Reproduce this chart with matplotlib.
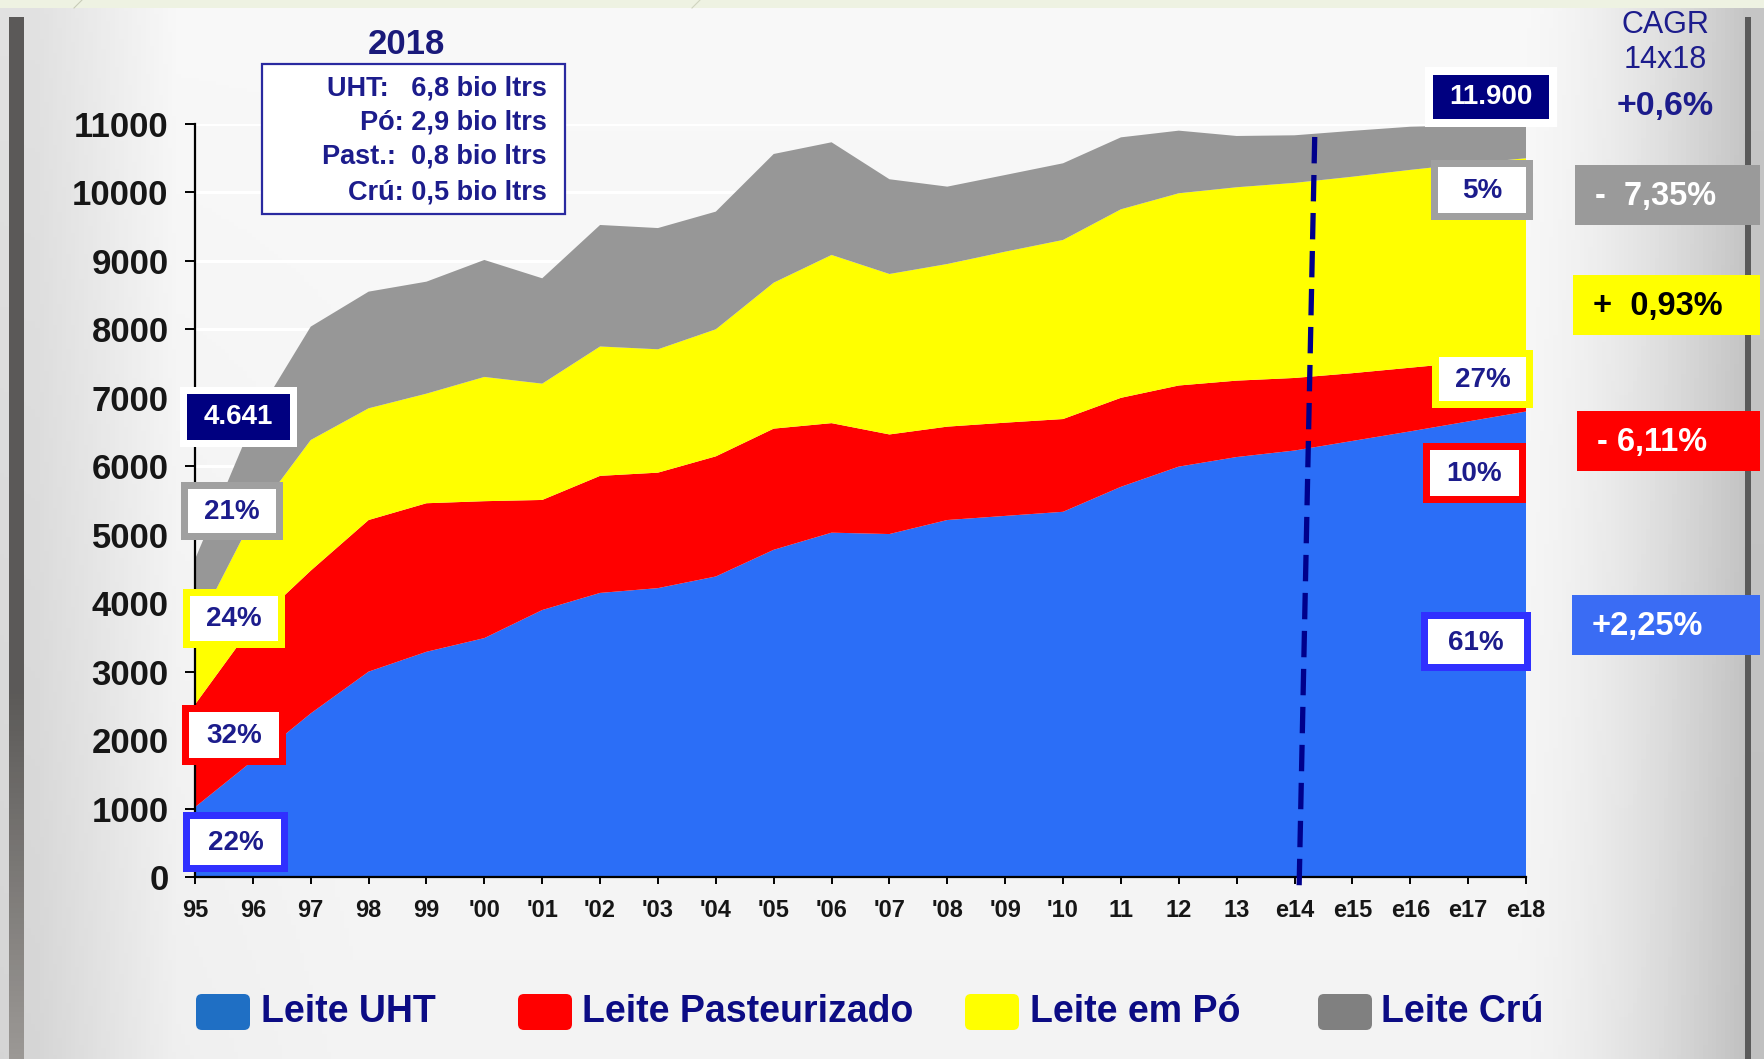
import numpy as np
import matplotlib
matplotlib.use("Agg")
import matplotlib.pyplot as plt
from matplotlib.patches import Rectangle, FancyBboxPatch

# ---------------- data ----------------
years = ["95", "96", "97", "98", "99", "'00", "'01", "'02", "'03", "'04", "'05", "'06",
         "'07", "'08", "'09", "'10", "11", "12", "13", "e14", "e15", "e16", "e17", "e18"]
leite_uht = [1020, 1700, 2390, 3000, 3290, 3490, 3900, 4150, 4220, 4390, 4780, 5030,
             5010, 5215, 5275, 5335, 5700, 5995, 6135, 6230, 6370, 6510, 6655, 6800]
leite_past = [1500, 1980, 2085, 2215, 2170, 2000, 1608, 1710, 1687, 1755, 1770, 1600,
              1455, 1364, 1362, 1355, 1300, 1185, 1116, 1060, 990, 930, 865, 800]
leite_po = [1080, 1570, 1909, 1632, 1601, 1815, 1699, 1890, 1802, 1856, 2132, 2457,
            2344, 2376, 2498, 2616, 2754, 2808, 2825, 2850, 2870, 2890, 2900, 2900]
leite_cru = [1041, 1400, 1656, 1704, 1636, 1709, 1539, 1775, 1771, 1719, 1880, 1646,
             1384, 1130, 1120, 1120, 1051, 915, 749, 695, 670, 630, 560, 500]
series_names = ["Leite UHT", "Leite Pasteurizado", "Leite em Pó", "Leite Crú"]
start_pct = ["22%", "32%", "24%", "21%"]
end_pct = ["61%", "10%", "27%", "5%"]
cagr_values = ["+2,25%", "- 6,11%", "+  0,93%", "-  7,35%"]
total_start = "4.641"
total_end = "11.900"
total_cagr = "+0,6%"
forecast_start = "e14"
info_title = "2018"
info_lines = ["UHT:   6,8 bio ltrs", "Pó: 2,9 bio ltrs", "Past.:  0,8 bio ltrs", "Crú: 0,5 bio ltrs"]
y_ticks = list(range(0, 11001, 1000))

# ---------------- style ----------------
area_colors = ["#2b6ef7", "#ff0000", "#ffff00", "#979797"]
legend_colors = ["#1f6fc4", "#ff0000", "#ffff00", "#808080"]
frame_colors = ["#3030ff", "#ff0000", "#ffff00", "#a0a0a0"]
cagr_face = ["#3a6cf4", "#ff0000", "#ffff00", "#9a9a9a"]
cagr_text = ["white", "white", "black", "white"]
navy = "#1c1c8c"
FONT = "Liberation Sans"
plt.rcParams["font.family"] = [FONT, "DejaVu Sans"]

W, H = 1765, 1059
fig = plt.figure(figsize=(W / 100, H / 100), dpi=100)

# ---------------- background ----------------
bg = fig.add_axes([0, 0, 1, 1], zorder=0)
bg.set_xlim(0, W)
bg.set_ylim(H, 0)
bg.axis("off")
u = np.linspace(0, 1, 400)[None, :]
v = np.linspace(0, 1, 300)[:, None]
val = 0.955 + 0.02 * (1 - v) \
    - 0.20 * np.clip((u - 0.86) / 0.13, 0, 1) ** 1.6 \
    - 0.09 * np.clip((0.10 - u) / 0.08, 0, 1) \
    - 0.03 * v * np.clip((0.2 - u) / 0.2, 0, 1)
img = np.dstack([val, val, val])
bg.imshow(img, extent=(0, W, H, 0), aspect="auto", zorder=0)
bg.add_patch(Rectangle((0, 0), W, 8, facecolor="#eef2e2", edgecolor="none", zorder=1))
bg.plot([82, 74], [0, 8], color="#c8ccb8", lw=0.8, zorder=2)
bg.plot([700, 692], [0, 8], color="#d0d4c0", lw=0.8, zorder=2)
# left dark bar with fade
bar = np.linspace(0, 1, 200)[:, None]
shade = 0.36 + 0.25 * np.clip((bar - 0.65) / 0.35, 0, 1)
bar_img = np.dstack([shade, shade * 0.98, shade * 0.96])
bg.imshow(np.repeat(bar_img, 4, axis=1), extent=(9, 24, 1059, 17), aspect="auto", zorder=2)
bg.add_patch(Rectangle((1745, 17), 6, H - 17, facecolor="#5a5a5a", edgecolor="none", zorder=2))

# ---------------- main chart ----------------
x0, x1, y0, y1 = 195, 1526, 124, 877
ax = fig.add_axes([x0 / W, 1 - y1 / H, (x1 - x0) / W, (y1 - y0) / H], zorder=2)
ax.patch.set_visible(False)
x = np.arange(len(years))
ax.stackplot(x, leite_uht, leite_past, leite_po, leite_cru, colors=area_colors,
             linewidth=0, zorder=2)
for yv in y_ticks[1:]:
    ax.axhline(yv, color="white", lw=2.2, zorder=1)
ax.set_xlim(0, len(years) - 1)
ax.set_ylim(0, 11000)
ax.set_xticks(x)
ax.set_xticklabels(years)
ax.set_yticks(y_ticks)
ax.set_yticklabels([str(t) for t in y_ticks])
for s in ["top", "right"]:
    ax.spines[s].set_visible(False)
for s in ["left", "bottom"]:
    ax.spines[s].set_color("black")
    ax.spines[s].set_linewidth(1.6)
ax.tick_params(axis="x", direction="out", length=5, width=1.4, pad=11, labelsize=17)
ax.tick_params(axis="y", direction="out", length=7, width=1.4, pad=12, labelsize=25)
for lab in ax.get_xticklabels() + ax.get_yticklabels():
    lab.set_fontweight("bold")
    lab.set_color("#161616")
fi = years.index(forecast_start)
ax.plot([fi + 0.08, fi + 0.35], [-120, 10850], color="#00008b", lw=3.8,
        ls=(0, (5, 2.2)), clip_on=False, zorder=4)

# ---------------- overlay annotations ----------------
ov = fig.add_axes([0, 0, 1, 1], zorder=10)
ov.set_xlim(0, W)
ov.set_ylim(H, 0)
ov.axis("off")
ov.patch.set_visible(False)


def framed(xa, ya, xb, yb, border, fill, bw):
    ov.add_patch(Rectangle((xa, ya), xb - xa, yb - ya, facecolor=border, edgecolor="none"))
    ov.add_patch(Rectangle((xa + bw, ya + bw), xb - xa - 2 * bw, yb - ya - 2 * bw,
                           facecolor=fill, edgecolor="none"))


# start percentages (UHT, Past, Po, Cru)
start_boxes = [(183, 812, 288, 872), (182, 705, 286, 765), (183, 589, 285, 648), (181, 482, 283, 540)]
for (xa, ya, xb, yb), col, txt in zip(start_boxes, frame_colors, start_pct):
    framed(xa, ya, xb, yb, col, "white", 7)
    ov.text((xa + xb) / 2, (ya + yb) / 2 + 1, txt, ha="center", va="center",
            fontsize=20, fontweight="bold", color=navy)

end_boxes = [(1421, 612, 1531, 671), (1423, 443, 1526, 503), (1432, 350, 1533, 408), (1431, 160, 1533, 220)]
for (xa, ya, xb, yb), col, txt in zip(end_boxes, frame_colors, end_pct):
    framed(xa, ya, xb, yb, col, "white", 7)
    ov.text((xa + xb) / 2, (ya + yb) / 2 + 1, txt, ha="center", va="center",
            fontsize=20, fontweight="bold", color=navy)

# totals
framed(180, 387, 297, 447, "white", "#000080", 7)
ov.text(238, 417, total_start, ha="center", va="center", fontsize=20,
        fontweight="bold", color="white")
framed(1425, 67, 1557, 127, "white", "#000080", 8)
ov.text(1491, 97, total_end, ha="center", va="center", fontsize=20,
        fontweight="bold", color="white")

# CAGR boxes
cagr_boxes = [(1572, 595, 1760, 655), (1577, 411, 1760, 471), (1573, 275, 1760, 335), (1575, 165, 1760, 225)]
for (xa, ya, xb, yb), fc, tc, txt in zip(cagr_boxes, cagr_face, cagr_text, cagr_values):
    ov.add_patch(Rectangle((xa, ya), xb - xa, yb - ya, facecolor=fc, edgecolor="none"))
    ov.text(xa + 20, (ya + yb) / 2 + 1, txt, ha="left", va="center", fontsize=23.5,
            fontweight="bold", color=tc)

ov.text(1665, 25, "CAGR", ha="center", va="center", fontsize=22, color=navy)
ov.text(1665, 60, "14x18", ha="center", va="center", fontsize=22, color=navy)
ov.text(1665, 107, total_cagr, ha="center", va="center", fontsize=24.5,
        fontweight="bold", color=navy)

# info box
ov.text(406, 45, info_title, ha="center", va="center", fontsize=25,
        fontweight="bold", color="#1a1a7a")
ov.add_patch(Rectangle((262, 64), 303, 150, facecolor="white", edgecolor="#2a2aa0", lw=1.6))
for yy, line in zip([88, 122, 157, 192], info_lines):
    ov.text(547, yy, line, ha="right", va="center", fontsize=19.5,
            fontweight="bold", color=navy)

# legend
leg_patch_x = [196, 518, 965, 1318]
leg_text_x = [261, 582, 1030, 1381]
for px, tx, col, name in zip(leg_patch_x, leg_text_x, legend_colors, series_names):
    ov.add_patch(FancyBboxPatch((px + 4, 998), 46, 28, boxstyle="round,pad=4,rounding_size=6",
                                facecolor=col, edgecolor="none"))
    ov.text(tx, 1012, name, ha="left", va="center", fontsize=27,
            fontweight="bold", color="#0c0c84")

fig.savefig("out.png", dpi=100)
